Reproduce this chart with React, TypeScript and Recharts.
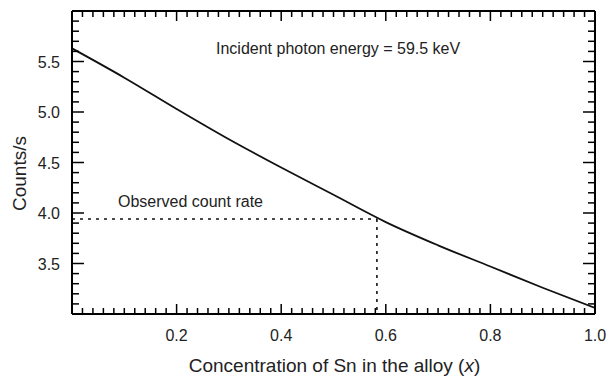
import React from 'react';
import { Line, LineChart, XAxis, YAxis } from 'recharts';

// curve
const concentration = [0, 0.1, 0.2, 0.3, 0.4, 0.5, 0.6, 0.7, 0.8, 0.9, 1.0];
const countRate = [5.63, 5.34, 5.03, 4.73, 4.45, 4.18, 3.91, 3.68, 3.47, 3.26, 3.06];

// observed count rate and the concentration it gives
const observedRate = 3.94;
const observedX = 0.583;

const xMajorLabels = [0.2, 0.4, 0.6, 0.8, 1.0];
const yMajorLabels = [3.5, 4.0, 4.5, 5.0, 5.5];

const FONT = '"Liberation Sans", Arial, sans-serif';

const curve = concentration.map((x, i) => ({ x, y: countRate[i] }));
const hDots = [
  { x: 0, y: observedRate },
  { x: observedX, y: observedRate },
];
const vDots = [
  { x: observedX, y: observedRate },
  { x: observedX, y: 3.0 },
];

// minor ticks every 0.02 on x, every 0.1 on y
const xTicks = Array.from({ length: 51 }, (_, i) => +(i * 0.02).toFixed(2));
const yTicks = Array.from({ length: 31 }, (_, i) => +(3 + i * 0.1).toFixed(1));

const isXMajor = (v: number) => Math.abs(v * 5 - Math.round(v * 5)) < 1e-6;
const isYMajor = (v: number) => Math.abs(v * 2 - Math.round(v * 2)) < 1e-6;
const hasLabel = (list: number[], v: number) => list.some((l) => Math.abs(l - v) < 1e-6);

const BottomTick = (props: any) => {
  const { x, y, payload } = props;
  const v = payload.value;
  const len = isXMajor(v) ? 10 : 6;
  return (
    <g>
      <line x1={x} y1={y} x2={x} y2={y - len} stroke="#000" strokeWidth={1.5} />
      {hasLabel(xMajorLabels, v) && (
        <text x={x} y={y + 27} textAnchor="middle" fontSize={16} fontFamily={FONT} fill="#222">
          {v.toFixed(1)}
        </text>
      )}
    </g>
  );
};

const TopTick = (props: any) => {
  const { x, y, payload } = props;
  const len = isXMajor(payload.value) ? 10 : 6;
  return <line x1={x} y1={y} x2={x} y2={y + len} stroke="#000" strokeWidth={1.5} />;
};

const LeftTick = (props: any) => {
  const { x, y, payload } = props;
  const v = payload.value;
  const len = isYMajor(v) ? 12 : 7;
  return (
    <g>
      <line x1={x} y1={y} x2={x + len} y2={y} stroke="#000" strokeWidth={1.5} />
      {hasLabel(yMajorLabels, v) && (
        <text x={x - 12} y={y + 6} textAnchor="end" fontSize={16} fontFamily={FONT} fill="#222">
          {v.toFixed(1)}
        </text>
      )}
    </g>
  );
};

const RightTick = (props: any) => {
  const { x, y, payload } = props;
  const len = isYMajor(payload.value) ? 12 : 7;
  return <line x1={x} y1={y} x2={x - len} y2={y} stroke="#000" strokeWidth={1.5} />;
};

const YTitle = (props: any) => {
  const vb = props.viewBox;
  const cx = vb.x + 19;
  const cy = vb.y + vb.height / 2 + 11;
  return (
    <text
      x={cx}
      y={cy}
      transform={`rotate(-90, ${cx}, ${cy})`}
      textAnchor="middle"
      dominantBaseline="central"
      fontSize={19}
      fontFamily={FONT}
      fill="#222"
    >
      Counts/s
    </text>
  );
};

const XTitle = (props: any) => {
  const vb = props.viewBox;
  return (
    <text
      x={vb.x + vb.width / 2 + 1}
      y={vb.y + vb.height - 5}
      textAnchor="middle"
      fontSize={19}
      fontFamily={FONT}
      fill="#222"
    >
      Concentration of Sn in the alloy (<tspan fontStyle="italic">x</tspan>)
    </text>
  );
};

const note = (left: number, top: number): React.CSSProperties => ({
  position: 'absolute',
  left,
  top,
  fontSize: 16,
  lineHeight: 1,
  fontFamily: FONT,
  color: '#222',
  whiteSpace: 'nowrap',
});

export default function App() {
  return (
    <div style={{ position: 'absolute', left: 0, top: 0, width: 607, height: 377, background: '#fff' }}>
      <LineChart width={607} height={377} margin={{ top: 1, right: 2, bottom: 0, left: 0 }}>
        <XAxis
          xAxisId="b"
          dataKey="x"
          type="number"
          domain={[0, 1]}
          allowDataOverflow
          ticks={xTicks}
          interval={0}
          tick={<BottomTick />}
          tickLine={false}
          tickSize={0}
          tickMargin={0}
          height={63}
          axisLine={{ stroke: '#000', strokeWidth: 2 }}
          label={<XTitle />}
        />
        <XAxis
          xAxisId="t"
          orientation="top"
          dataKey="x"
          type="number"
          domain={[0, 1]}
          allowDataOverflow
          ticks={xTicks}
          interval={0}
          tick={<TopTick />}
          tickLine={false}
          tickSize={0}
          tickMargin={0}
          height={10}
          axisLine={{ stroke: '#000', strokeWidth: 2 }}
        />
        <YAxis
          yAxisId="l"
          type="number"
          domain={[3, 6]}
          allowDataOverflow
          ticks={yTicks}
          interval={0}
          tick={<LeftTick />}
          tickLine={false}
          tickSize={0}
          tickMargin={0}
          width={72}
          axisLine={{ stroke: '#000', strokeWidth: 2 }}
          label={<YTitle />}
        />
        <YAxis
          yAxisId="r"
          orientation="right"
          type="number"
          domain={[3, 6]}
          allowDataOverflow
          ticks={yTicks}
          interval={0}
          tick={<RightTick />}
          tickLine={false}
          tickSize={0}
          tickMargin={0}
          width={10}
          axisLine={{ stroke: '#000', strokeWidth: 2 }}
        />
        <Line
          xAxisId="b"
          yAxisId="l"
          data={curve}
          dataKey="y"
          type="monotone"
          stroke="#111"
          strokeWidth={1.8}
          dot={false}
          isAnimationActive={false}
        />
        <Line
          xAxisId="t"
          yAxisId="r"
          data={hDots}
          dataKey="y"
          stroke="#111"
          strokeWidth={1.6}
          strokeDasharray="3 5"
          dot={false}
          isAnimationActive={false}
        />
        <Line
          xAxisId="b"
          yAxisId="l"
          data={vDots}
          dataKey="y"
          stroke="#111"
          strokeWidth={1.6}
          strokeDasharray="3 5"
          dot={false}
          isAnimationActive={false}
        />
      </LineChart>
      <div style={note(216, 41)}>Incident photon energy = 59.5 keV</div>
      <div style={note(118, 194)}>Observed count rate</div>
    </div>
  );
}
